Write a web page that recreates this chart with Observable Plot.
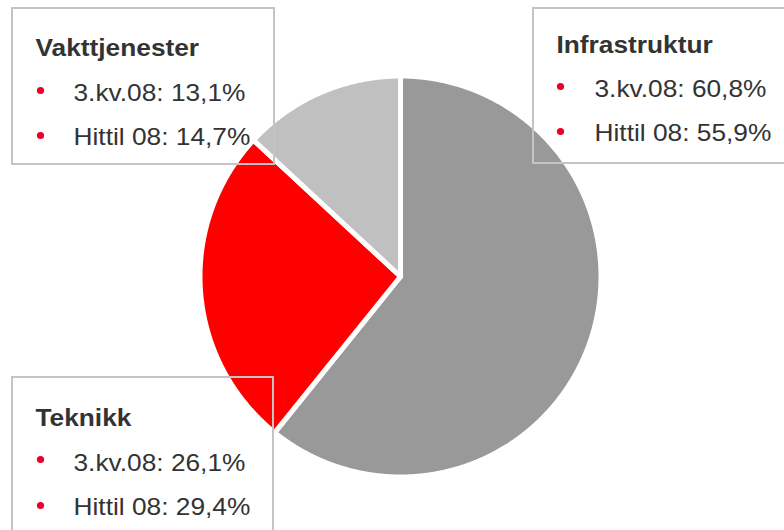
<!DOCTYPE html>
<html>
<head>
<meta charset="utf-8">
<script src="https://cdn.jsdelivr.net/npm/d3@7"></script>
<script src="https://cdn.jsdelivr.net/npm/@observablehq/plot@0.6"></script>
<style>
  html, body { margin: 0; padding: 0; background: #fff; }
  #chart { width: 784px; height: 530px; overflow: hidden; }
</style>
</head>
<body>
<div id="chart"></div>
<script>
// ---- data ----
const segments = ["Infrastruktur", "Teknikk", "Vakttjenester"];
const q3Values = [60.8, 26.1, 13.1];
const ytdValues = [55.9, 29.4, 14.7];
const periodLabels = ["3.kv.08", "Hittil 08"];
const sliceColors = ["#999999", "#ff0000", "#c0c0c0"];

// ---- layout (pixel space) ----
const W = 784, H = 530;
const pie = {cx: 400, cy: 276, r: 200.5};
const boxLayout = {
  "Vakttjenester": {x1: 12, y1: 8, x2: 274, y2: 164, tx: 35, ty: 55, bx: 40, lx: 73, rows: [100, 144], dots: [90, 135]},
  "Infrastruktur": {x1: 533, y1: 8, x2: 800, y2: 163, tx: 556, ty: 52, bx: 560, lx: 594, rows: [96, 140], dots: [86, 131]},
  "Teknikk":       {x1: 12, y1: 377, x2: 273, y2: 545, tx: 35, ty: 425, bx: 40, lx: 73, rows: [470, 514], dots: [459, 505]}
};
const fmt = v => v.toFixed(1).replace(".", ",") + "%";

// pie polygons from the values
const arcs = d3.pie().sort(null).value(d => d.value)(
  segments.map((s, i) => ({name: s, value: q3Values[i], color: sliceColors[i]}))
);
const piePts = [];
arcs.forEach(a => {
  const n = Math.max(2, Math.ceil((a.endAngle - a.startAngle) / 0.005));
  piePts.push({name: a.data.name, color: a.data.color, x: pie.cx, y: pie.cy});
  for (let k = 0; k <= n; k++) {
    const t = a.startAngle + (a.endAngle - a.startAngle) * k / n;
    piePts.push({name: a.data.name, color: a.data.color,
      x: pie.cx + pie.r * Math.sin(t), y: pie.cy - pie.r * Math.cos(t)});
  }
  piePts.push({name: a.data.name, color: a.data.color, x: pie.cx, y: pie.cy});
});

// label rows
const boxes = segments.map(s => ({name: s, ...boxLayout[s]}));
const titles = segments.map(s => ({text: s, x: boxLayout[s].tx, y: boxLayout[s].ty}));
const rows = [];
segments.forEach((s, i) => {
  const L = boxLayout[s];
  [q3Values[i], ytdValues[i]].forEach((v, j) => {
    rows.push({text: `${periodLabels[j]}: ${fmt(v)}`, x: L.lx, y: L.rows[j], bx: L.bx, by: L.dots[j]});
  });
});

const font = "'Liberation Sans', Arial, sans-serif";
const plot = Plot.plot({
  width: W, height: H,
  margin: 0,
  x: {domain: [0, W], range: [0, W], axis: null},
  y: {domain: [0, H], range: [0, H], axis: null},
  color: {type: "identity"},
  style: {fontFamily: font, background: "#fff", overflow: "hidden"},
  marks: [
    Plot.line(piePts, {x: "x", y: "y", z: "name", fill: "color", stroke: "#fff",
      strokeWidth: 5, strokeLinejoin: "round", strokeLinecap: "round", curve: "linear"}),
    Plot.rect(boxes, {x1: "x1", x2: "x2", y1: "y1", y2: "y2", fill: "none",
      stroke: "#c4c4c4", strokeWidth: 2}),
    Plot.text(titles, {x: "x", y: "y", text: "text", textAnchor: "start", lineAnchor: "bottom",
      fontSize: 24, fontWeight: "bold", fill: "#333333"}),
    Plot.dot(rows, {x: "bx", y: "by", r: 3.6, fill: "#e8002a", stroke: null}),
    Plot.text(rows, {x: "x", y: "y", text: "text", textAnchor: "start", lineAnchor: "bottom",
      fontSize: 24, fill: "#333333"})
  ]
});
document.getElementById("chart").appendChild(plot);
// horizontally widen the text like the reference
plot.querySelectorAll("text").forEach(t => {
  const len = t.getComputedTextLength();
  if (len > 0) {
    t.setAttribute("textLength", (len * 1.095).toFixed(1));
    t.setAttribute("lengthAdjust", "spacingAndGlyphs");
  }
});
</script>
</body>
</html>
